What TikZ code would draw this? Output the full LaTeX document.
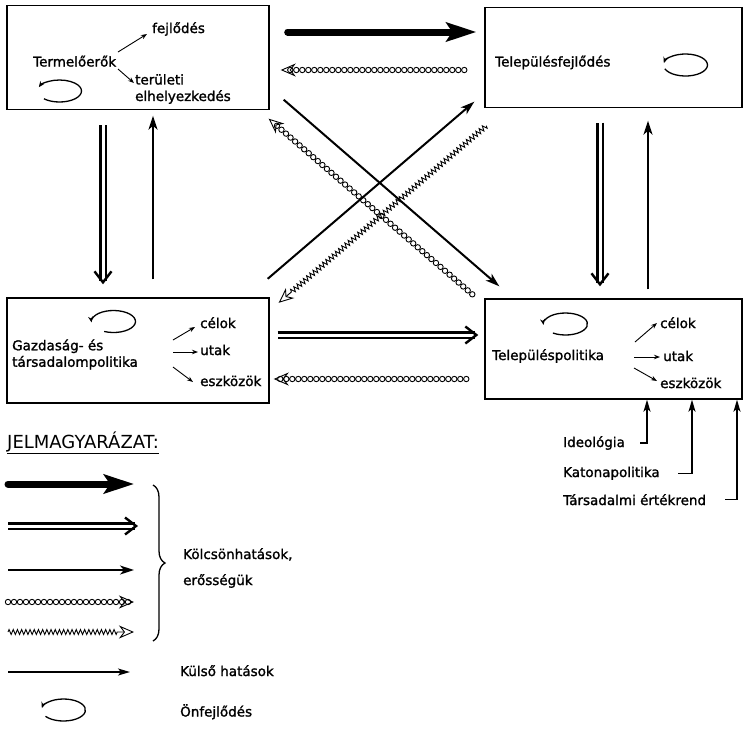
\documentclass[tikz,border=0pt]{standalone}
\usepackage{fontspec}
\setmainfont{DejaVu Sans}
\newfontfamily\labelfont[FakeBold=1.5]{DejaVu Sans}
\usetikzlibrary{arrows.meta,calc,decorations.markings,decorations.pathmorphing,decorations.pathreplacing}

\tikzset{
  box/.style={draw, line width=1.4pt, inner sep=0pt},
  txt/.style={inner sep=0pt, font=\labelfont\fontsize{13.5}{16.5}\selectfont, align=left},
  thickarr/.style={line width=7pt, line cap=round, -{Stealth[length=30pt,width=19pt,inset=6pt]}},
  dblarr/.style={double, double distance=3pt, line width=2.4pt, -{Straight Barb[length=11pt,width=17pt]}},
  plainarr/.style={line width=2pt, -{Stealth[length=14pt,width=9pt,inset=4pt]}},
  extarr/.style={line width=1.5pt, -{Stealth[length=12pt,width=7pt,inset=3pt]}},
  smallarr/.style={line width=0.9pt, -{Stealth[length=6pt,width=4.5pt]}},
  circarr/.style={postaction={decorate}, decoration={markings,
      mark=between positions 0 and -6pt step 6pt with {\draw[line width=0.9pt] (0,0) circle (2.7pt);},
      mark=at position 1 with {\arrow[line width=0.9pt]{Stealth[open,length=15pt,width=13pt]}}}},
  zigarr/.style={line width=0.9pt, decorate,
      decoration={zigzag, amplitude=2.5pt, segment length=4.2pt, post length=15pt},
      -{Stealth[open,length=15pt,width=13pt]}},
  loopline/.style={line width=1.3pt, -{Stealth[length=6pt,width=5pt]}}
}
\newcommand{\onfejl}[4]{\draw[loopline] (#1,#2) ++(#3:22pt and 11pt) arc[start angle=#3, end angle=#4, x radius=22pt, y radius=11pt];}

\begin{document}
\begin{tikzpicture}[x=1pt,y=-1pt]
    \useasboundingbox (0,0) rectangle (745,732);
    \node[box, minimum width=262pt, minimum height=104pt] (tf) at (138,57.5) {};
    \node[box, minimum width=257pt, minimum height=100pt] (tfj) at (613.5,57.5) {};
    \node[box, minimum width=262pt, minimum height=105pt] (gt) at (138,350.5) {};
    \node[box, minimum width=257pt, minimum height=100pt] (tp) at (613.5,349) {};

    \node[txt, anchor=base west] (tfo) at (33,66.5) {Termelőerők};
    \node[txt, anchor=base west] (fej) at (152,33) {fejlődés};
    \node[txt, anchor=west] (ter) at (135,89) {területi\\elhelyezkedés};
    \node[txt, anchor=base west] (tfs) at (495,66.5) {Településfejlődés};
    \node[txt, anchor=west] (gts) at (12,354.5) {Gazdaság- és\\társadalompolitika};
    \node[txt, anchor=base west] (cel) at (200,328) {célok};
    \node[txt, anchor=base west] (uta) at (200,355) {utak};
    \node[txt, anchor=base west] (esz) at (200,386) {eszközök};
    \node[txt, anchor=base west] (tps) at (492,360) {Településpolitika};
    \node[txt, anchor=base west] (cel2) at (660,328) {célok};
    \node[txt, anchor=base west] (uta2) at (663,361) {utak};
    \node[txt, anchor=base west] (esz2) at (660,388) {eszközök};
    \node[txt, anchor=base west] (ide) at (563,447) {Ideológia};
    \node[txt, anchor=base west] (kat) at (563,477) {Katonapolitika};
    \node[txt, anchor=base west] (tar) at (563,505) {Társadalmi értékrend};

    \coordinate (tfk) at (118,60);
    \coordinate (gtk) at (173,352);
    \coordinate (tpk) at (634,357);
    \draw[smallarr] ([shift={(0,-8)}]tfk) -- ([shift={(-5,1)}]fej.base west);
    \draw[smallarr] ([shift={(0,9)}]tfk) -- ([shift={(-1,9)}]ter.north west);
    \draw[smallarr] ([shift={(0,-12)}]gtk) -- ([shift={(-5,-1)}]cel.base west);
    \draw[smallarr] (gtk) -- ([shift={(-2,-3)}]uta.base west);
    \draw[smallarr] ([shift={(0,15)}]gtk) -- ([shift={(-7,-4)}]esz.base west);
    \draw[smallarr] ([shift={(1,-15)}]tpk) -- ([shift={(-3,-5)}]cel2.base west);
    \draw[smallarr] (tpk) -- ([shift={(-3,-4)}]uta2.base west);
    \draw[smallarr] ([shift={(0,11)}]tpk) -- ([shift={(-3,-7)}]esz2.base west);

    \onfejl{59.5}{91}{225}{520}
    \onfejl{685.5}{65}{200}{530}
    \onfejl{113.5}{321.5}{245}{545}
    \onfejl{565.5}{324}{235}{545}

    \draw[thickarr] ([shift={(18,-25.5)}]tf.east) -- ([shift={(-8,-25.5)}]tfj.west);
    \path[circarr] ([shift={(-20,12.5)}]tfj.west) -- ([shift={(11,12.5)}]tf.east);
    \draw[dblarr] ([shift={(8,-15.5)}]gt.east) -- ([shift={(-6,-14)}]tp.west);
    \path[circarr] ([shift={(-18,30)}]tp.west) -- ([shift={(4,28.5)}]gt.east);
    \draw[dblarr] ([shift={(-35,15)}]tf.south) -- ([shift={(-35,-13)}]gt.north);
    \draw[plainarr] ([shift={(15,-18)}]gt.north) -- ([shift={(15,5.5)}]tf.south);
    \draw[dblarr] ([shift={(-13.5,14.5)}]tfj.south) -- ([shift={(-13.5,-12)}]tp.north);
    \draw[plainarr] ([shift={(34.5,-9)}]tp.north) -- ([shift={(34.5,12.5)}]tfj.south);
    \draw[plainarr] ([shift={(14,-10.5)}]tf.south east) -- ([shift={(15,-12)}]tp.north west);
    \draw[plainarr] ([shift={(-2,-18.5)}]gt.north east) -- ([shift={(-10,-6.5)}]tfj.south west);
    \path[circarr] ([shift={(-12,-4)}]tp.north west) -- ([shift={(-1,8.5)}]tf.south east);
    \draw[zigarr] ([shift={(2,17.5)}]tfj.south west) -- ([shift={(9,5.5)}]gt.north east);

    \draw[extarr] ($(ide.east -| tp.south)+(26.5,0)$) -| ([xshift=33.5pt]tp.south);
    \draw[extarr] ($(kat.east -| tp.south)+(64.5,0)$) -| ([xshift=78.5pt]tp.south);
    \draw[extarr] ($(tar.east -| tp.south)+(111.5,0)$) -| ([xshift=123.5pt]tp.south);

    \node[txt, anchor=base west, font=\fontsize{18}{20}\selectfont] (jel) at (7,448) {\underline{JELMAGYARÁZAT:}};
    \foreach \n/\y in {1/484,2/526,3/570,4/602,5/632,6/672} {
      \coordinate (ls\n) at (8,\y);
      \coordinate (le\n) at (134,\y);
    }
    \draw[thickarr] (ls1) -- (le1);
    \draw[dblarr] (ls2) -- ([xshift=4pt]le2);
    \draw[plainarr] (ls3) -- (le3);
    \path[circarr] (ls4) -- (le4);
    \draw[zigarr] (ls5) -- (le5);
    \draw[extarr] (ls6) -- ([xshift=-4pt]le6);
    \onfejl{63.5}{710}{215}{530}
    \draw[line width=1.3pt, decorate, decoration={brace, amplitude=12pt}] (153,485) -- (153,641);
    \node[txt, anchor=base west] (kol) at (183,559) {Kölcsönhatások,};
    \node[txt, anchor=base west] (ero) at (183,585) {erősségük};
    \node[txt, anchor=base west] (kul) at (180,676) {Külső hatások};
    \node[txt, anchor=base west] (onf) at (180,716.5) {Önfejlődés};
\end{tikzpicture}
\end{document}
